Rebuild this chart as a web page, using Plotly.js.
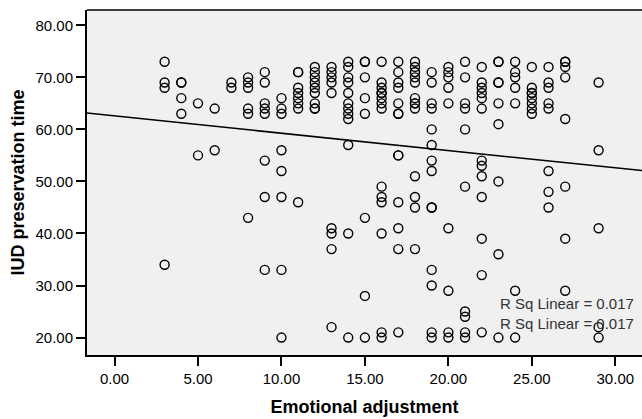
<!DOCTYPE html>
<html>
<head>
<meta charset="utf-8">
<script src="https://cdn.plot.ly/plotly-3.0.1.min.js"></script>
<style>html,body{margin:0;padding:0;background:#fff;}#chart{width:642px;height:419px;}</style>
</head>
<body>
<div id="chart"></div>
<script>
// Emotional adjustment score (x) for each respondent, grouped by score
const emotionalAdjustment = [
  3,3,3,3,
  4,4,4,4,
  5,5,
  6,6,
  7,7,
  8,8,8,8,8,8,
  9,9,9,9,9,9,9,9,
  10,10,10,10,10,10,10,10,
  11,11,11,11,11,11,11,11,
  12,12,12,12,12,12,12,12,12,
  13,13,13,13,13,13,13,13,13,
  14,14,14,14,14,14,14,14,14,14,14,14,
  15,15,15,15,15,15,15,15,
  16,16,16,16,16,16,16,16,16,16,16,16,16,16,
  17,17,17,17,17,17,17,17,17,17,17,17,17,
  18,18,18,18,18,18,18,18,18,18,18,18,18,18,
  19,19,19,19,19,19,19,19,19,19,19,19,19,19,
  20,20,20,20,20,20,20,20,20,
  21,21,21,21,21,21,21,21,21,21,
  22,22,22,22,22,22,22,22,22,22,22,22,22,
  23,23,23,23,23,23,23,23,23,
  24,24,24,24,24,24,24,
  25,25,25,25,25,25,25,25,
  26,26,26,26,26,26,26,26,
  27,27,27,27,27,27,27,27,
  29,29,29,29,29
];
// IUD preservation time for the same respondents (same order)
const iudPreservationTime = [
  73,69,68,34,
  69,69,66,63,
  65,55,
  64,56,
  69,68,
  70,69,68,64,63,43,
  71,69,65,64,63,54,47,33,
  66,64,63,56,52,47,33,20,
  71,71,68,67,66,65,64,46,
  72,71,70,69,68,67,65,64,64,
  72,71,70,69,67,41,40,37,22,
  73,72,70,69,67,65,64,63,62,57,40,20,
  73,73,70,66,63,43,28,20,
  73,69,68,67,67,66,65,64,49,47,46,40,21,20,
  73,71,69,68,65,63,63,55,55,46,41,37,21,
  73,72,71,71,70,69,66,65,65,64,51,47,45,37,
  71,69,65,64,60,57,54,52,45,45,33,30,21,20,
  72,71,70,68,65,41,29,21,20,
  73,70,65,64,60,49,25,24,21,20,
  72,69,68,67,66,64,54,53,51,47,39,32,21,
  73,73,69,69,65,61,50,36,20,
  73,71,70,68,65,29,20,
  72,68,67,67,66,65,64,63,
  72,69,68,65,64,52,48,45,
  73,73,72,70,62,49,39,29,
  69,56,41,22,20
];
const xTickValues = [0, 5, 10, 15, 20, 25, 30];
const yTickValues = [20, 30, 40, 50, 60, 70, 80];
const rSqLabels = ["R Sq Linear = 0.017", "R Sq Linear = 0.017"];
const xTitle = "Emotional adjustment";
const yTitle = "IUD preservation time";

const xRange = [-1.65, 31.6];
const yRange = [16.65, 82.94];

// least-squares fit from the data
const n = emotionalAdjustment.length;
let sx = 0, sy = 0, sxx = 0, sxy = 0;
for (let i = 0; i < n; i++) {
  const x = emotionalAdjustment[i], y = iudPreservationTime[i];
  sx += x; sy += y; sxx += x * x; sxy += x * y;
}
const slope = (n * sxy - sx * sy) / (n * sxx - sx * sx);
const intercept = (sy - slope * sx) / n;
const fitX = xRange.slice();
const fitY = fitX.map(x => intercept + slope * x);

const FONT = "Liberation Sans, Arial, sans-serif";

const traces = [
  {
    type: "scatter", mode: "markers",
    x: emotionalAdjustment, y: iudPreservationTime,
    marker: {symbol: "circle-open", size: 9, color: "#000", line: {width: 1.4, color: "#000"}},
    hoverinfo: "x+y", showlegend: false, cliponaxis: false
  },
  {
    type: "scatter", mode: "lines",
    x: fitX, y: fitY,
    line: {color: "#000", width: 1.5},
    hoverinfo: "skip", showlegend: false
  }
];

const axisCommon = {
  showgrid: false, zeroline: false,
  showline: true, linecolor: "#000", linewidth: 2,
  ticks: "outside", ticklen: 9, tickwidth: 2, tickcolor: "#000",
  tickformat: ".2f",
  tickfont: {family: FONT, size: 15, color: "#000"},
  fixedrange: true
};

const layout = {
  width: 642, height: 419,
  margin: {l: 87, r: 0, t: 10, b: 64, pad: 0},
  paper_bgcolor: "#fff", plot_bgcolor: "#f0f0f0",
  font: {family: FONT, color: "#000"},
  xaxis: Object.assign({}, axisCommon, {
    range: xRange, tickmode: "array", tickvals: xTickValues,
    title: {text: xTitle, font: {family: FONT, size: 18, color: "#000", weight: "bold"}, standoff: 14}
  }),
  yaxis: Object.assign({}, axisCommon, {
    range: yRange, tickmode: "array", tickvals: yTickValues,
    title: {text: yTitle, font: {family: FONT, size: 18, color: "#000", weight: "bold"}, standoff: 6}
  }),
  shapes: [
    {type: "line", xref: "paper", yref: "paper", x0: 0, x1: 1, y0: 1, y1: 1, line: {color: "#000", width: 1.3}}
  ],
  annotations: rSqLabels.map((t, i) => ({
    text: t, xref: "x", yref: "y", x: 23.0, y: 26.6 - i * 3.85,
    xanchor: "left", yanchor: "middle", showarrow: false,
    font: {family: FONT, size: 15, color: "#333"}
  })),
  showlegend: false
};

Plotly.newPlot("chart", traces, layout, {displayModeBar: false, staticPlot: true});
</script>
</body>
</html>
